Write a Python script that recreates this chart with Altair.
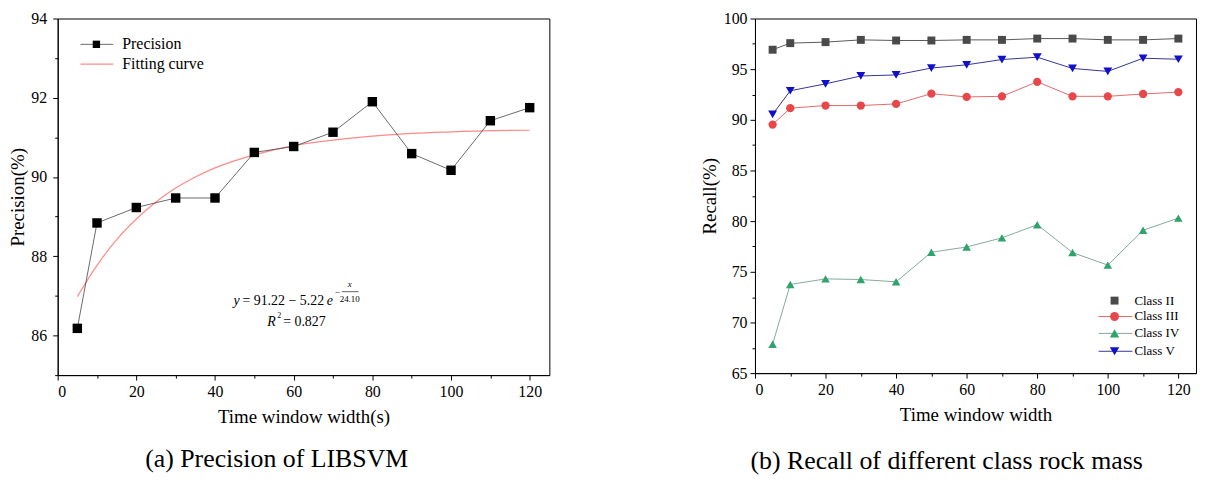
import altair as alt
import pandas as pd

FONT = "Liberation Serif"

# ---------------- data: panel (a) ----------------
time_a = [5, 10, 20, 30, 40, 50, 60, 70, 80, 90, 100, 110, 120]
precision = [86.18, 88.84, 89.23, 89.47, 89.47, 90.62, 90.77, 91.13, 91.90, 90.59, 90.17, 91.42, 91.75]
fit_x = [5, 10, 15, 20, 25, 30, 35, 40, 50, 60, 70, 80, 90, 100, 110, 120]
fit_y = [86.98, 87.77, 88.42, 88.94, 89.37, 89.72, 90.00, 90.23, 90.56, 90.79, 90.93, 91.03, 91.10, 91.14, 91.17, 91.18]
a_x_major = [0, 20, 40, 60, 80, 100, 120]
a_x_minor = [10, 30, 50, 70, 90, 110]
a_y_major = [86, 88, 90, 92, 94]
a_y_minor = [85, 87, 89, 91, 93]

# ---------------- data: panel (b) ----------------
time_b = [5, 10, 20, 30, 40, 50, 60, 70, 80, 90, 100, 110, 120]
class_ii = [96.92, 97.57, 97.67, 97.89, 97.83, 97.83, 97.89, 97.89, 98.02, 98.02, 97.89, 97.89, 98.02]
class_iii = [89.53, 91.15, 91.41, 91.41, 91.57, 92.58, 92.26, 92.32, 93.75, 92.32, 92.32, 92.55, 92.74]
class_iv = [67.85, 73.75, 74.30, 74.24, 74.01, 76.93, 77.45, 78.35, 79.65, 76.90, 75.66, 79.10, 80.30]
class_v = [90.54, 92.87, 93.55, 94.33, 94.43, 95.11, 95.43, 95.95, 96.18, 95.07, 94.78, 96.08, 95.98]
series_names = ["Class II", "Class III", "Class IV", "Class V"]
marker_colors = ["#4a4a4a", "#e8474a", "#2ea36b", "#1010c8"]
line_colors = ["#5a5a5a", "#e36a6a", "#86a99a", "#34349a"]
marker_shapes = ["square", "circle", "triangle-up", "triangle-down"]
marker_sizes = [64, 80, 90, 90]
b_x_major = [0, 20, 40, 60, 80, 100, 120]
b_x_minor = [10, 30, 50, 70, 90, 110]
b_y_major = [65, 70, 75, 80, 85, 90, 95, 100]
b_y_minor = [67.5, 72.5, 77.5, 82.5, 87.5, 92.5, 97.5]

one = pd.DataFrame({"k": [0]})


def txt(s, x, y, size=14, italic=False, align="left", baseline="middle"):
    return alt.Chart(pd.DataFrame({"s": [s]})).mark_text(
        font=FONT, fontSize=size, fontStyle="italic" if italic else "normal",
        color="black", align=align, baseline=baseline
    ).encode(x=alt.value(x), y=alt.value(y), text="s:N")


# ---------------- panel (a) ----------------
sx_a = alt.Scale(domain=[0, 125], nice=False, zero=False)
sy_a = alt.Scale(domain=[85, 94], nice=False, zero=False)
xa = alt.X("t:Q", scale=sx_a, axis=alt.Axis(values=a_x_major, title="Time window width(s)",
                                             tickSize=5, labelPadding=4, titlePadding=8, orient="bottom"))
ya = alt.Y("p:Q", scale=sy_a, axis=alt.Axis(values=a_y_major, title="Precision(%)",
                                             tickSize=5, labelPadding=6, titlePadding=3, orient="left"))

df_a = pd.DataFrame({"t": time_a, "p": precision})
df_fit = pd.DataFrame({"t": fit_x, "p": fit_y})

fit = alt.Chart(df_fit).mark_line(color="#ff8a8a", strokeWidth=1.2, interpolate="monotone").encode(x=xa, y=ya)
pline = alt.Chart(df_a).mark_line(color="#444444", strokeWidth=0.8).encode(x=xa, y=ya)
ppts = alt.Chart(df_a).mark_point(shape="square", filled=True, color="black", size=90, opacity=1).encode(x=xa, y=ya)

leg_a = [
    alt.Chart(one).mark_rule(color="#444444", strokeWidth=0.8).encode(x=alt.value(23), x2=alt.value(56), y=alt.value(26)),
    alt.Chart(one).mark_point(shape="square", filled=True, color="black", size=55, opacity=1).encode(x=alt.value(39), y=alt.value(26)),
    alt.Chart(one).mark_rule(color="#ff8a8a", strokeWidth=1.2).encode(x=alt.value(23), x2=alt.value(56), y=alt.value(46)),
    txt("Precision", 65, 26, size=16),
    txt("Fitting curve", 65, 46, size=16),
]

eq = [
    txt("y", 177, 284, italic=True),
    txt("= 91.22 − 5.22", 186, 284),
    txt("e", 271, 284, italic=True),
    txt("−", 279, 275, size=9),
    txt("x", 294, 267, size=9, italic=True, align="center"),
    alt.Chart(one).mark_rule(color="black", strokeWidth=0.6).encode(x=alt.value(286), x2=alt.value(303), y=alt.value(275)),
    txt("24.10", 294, 282, size=9, align="center"),
    txt("R", 211, 306, italic=True),
    txt("2", 221, 300, size=8),
    txt("= 0.827", 227, 306),
]

minor_a = alt.Chart(df_a).mark_point(opacity=0).encode(
    x=alt.X("t:Q", scale=sx_a, axis=alt.Axis(values=a_x_minor, labels=False, domain=False, tickSize=3,
                                              title=None, orient="bottom", grid=False)),
    y=alt.Y("p:Q", scale=sy_a, axis=alt.Axis(values=a_y_minor, labels=False, domain=False, tickSize=3,
                                              title=None, orient="left", grid=False)),
)

left_main = alt.layer(fit, pline, ppts, *leg_a, *eq)
left = alt.layer(left_main, minor_a).resolve_axis(x="independent", y="independent").properties(
    width=495, height=359,
    title=alt.TitleParams(text="(a) Precision of LIBSVM", orient="bottom", anchor="middle", fontSize=26,
                          font=FONT, fontWeight="normal", color="black", offset=20, dx=-27),
)

# ---------------- panel (b) ----------------
rows = []
for name, vals in zip(series_names, [class_ii, class_iii, class_iv, class_v]):
    for t, v in zip(time_b, vals):
        rows.append({"t": t, "r": v, "series": name})
df_b = pd.DataFrame(rows)

sx_b = alt.Scale(domain=[0, 125], nice=False, zero=False)
sy_b = alt.Scale(domain=[65, 100], nice=False, zero=False)
xb = alt.X("t:Q", scale=sx_b, axis=alt.Axis(values=b_x_major, title="Time window width",
                                             tickSize=5, labelPadding=4, titlePadding=8, orient="bottom"))
yb = alt.Y("r:Q", scale=sy_b, axis=alt.Axis(values=b_y_major, title="Recall(%)",
                                             tickSize=5, labelPadding=3, titlePadding=4, orient="left"))

blines = alt.Chart(df_b).mark_line(strokeWidth=1).encode(
    x=xb, y=yb,
    color=alt.Color("series:N", scale=alt.Scale(domain=series_names, range=line_colors), legend=None),
    detail="series:N",
)
bpts = alt.Chart(df_b).mark_point(filled=True, opacity=1).encode(
    x=xb, y=yb,
    color=alt.Color("series:N", scale=alt.Scale(domain=series_names, range=marker_colors), legend=None),
    shape=alt.Shape("series:N", scale=alt.Scale(domain=series_names, range=marker_shapes), legend=None),
    size=alt.Size("series:N", scale=alt.Scale(domain=series_names, range=marker_sizes), legend=None),
)
bpts_layer = alt.layer(blines, bpts).resolve_scale(color="independent")

leg_y = [284, 300, 317, 335]
leg_b = []
for i, name in enumerate(series_names):
    if i > 0:
        leg_b.append(alt.Chart(one).mark_rule(color=line_colors[i], strokeWidth=1).encode(
            x=alt.value(346), x2=alt.value(380), y=alt.value(leg_y[i])))
    leg_b.append(alt.Chart(one).mark_point(shape=marker_shapes[i], filled=True, color=marker_colors[i],
                                           size=marker_sizes[i], opacity=1).encode(
        x=alt.value(362), y=alt.value(leg_y[i])))
    leg_b.append(txt(name, 382, leg_y[i], size=13))

minor_b = alt.Chart(df_b).mark_point(opacity=0).encode(
    x=alt.X("t:Q", scale=sx_b, axis=alt.Axis(values=b_x_minor, labels=False, domain=False, tickSize=3,
                                              title=None, orient="bottom", grid=False)),
    y=alt.Y("r:Q", scale=sy_b, axis=alt.Axis(values=b_y_minor, labels=False, domain=False, tickSize=3,
                                              title=None, orient="left", grid=False)),
)

right_main = alt.layer(bpts_layer, *leg_b)
right = alt.layer(right_main, minor_b).resolve_axis(x="independent", y="independent").properties(
    width=444, height=357,
    title=alt.TitleParams(text="(b) Recall of different class rock mass", orient="bottom", anchor="middle",
                          fontSize=26, font=FONT, fontWeight="normal", color="black", offset=24, dx=-29),
)

chart = alt.hconcat(left, right, spacing=150).properties(
    padding={"left": 0, "top": 0, "right": 0, "bottom": 0}
).configure(background="white").configure_view(stroke="black", strokeWidth=1).configure_axis(
    labelFont=FONT, titleFont=FONT, labelFontSize=16, titleFontSize=19, titleFontWeight="normal",
    labelColor="black", titleColor="black", domainColor="black", tickColor="black", grid=False,
    domainWidth=1, tickWidth=1,
)

chart.save("out.html", embed_options={"renderer": "svg", "actions": False})
